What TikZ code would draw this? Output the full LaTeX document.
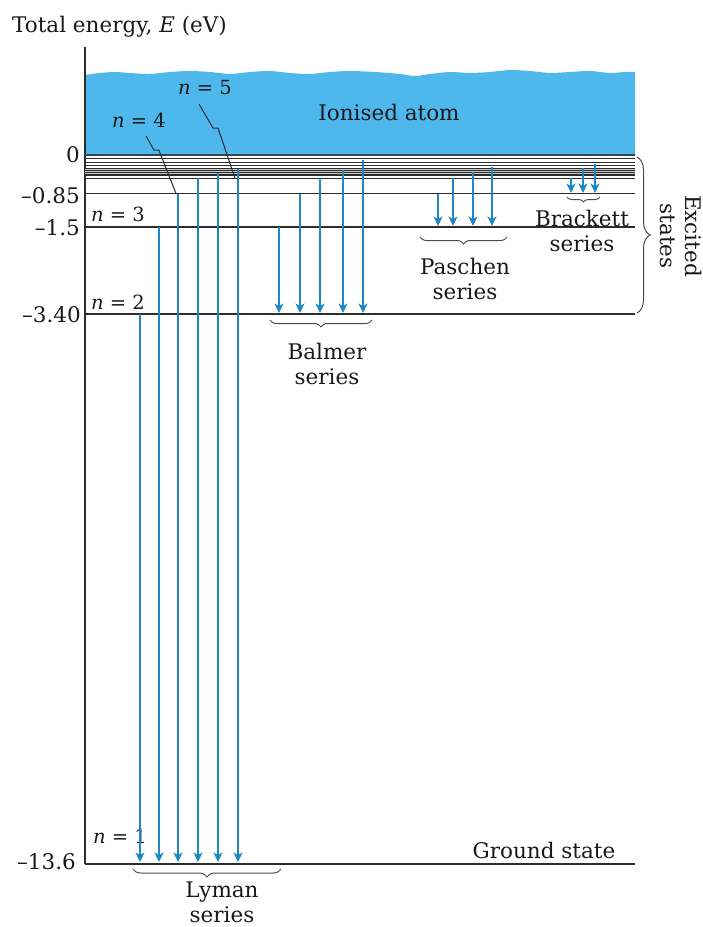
\documentclass[tikz,border=0pt]{standalone}
\usepackage{fontspec}
\setmainfont{DejaVu Serif}
\usetikzlibrary{arrows.meta,decorations.pathreplacing}
\definecolor{ionblue}{RGB}{78,184,236}
\definecolor{arrblue}{RGB}{30,136,196}
\definecolor{lev}{RGB}{45,45,45}
\begin{document}
\begin{tikzpicture}[x=1pt,y=-1pt,
  lbl/.style={font=\fontsize{21.5}{25}\selectfont, inner sep=0pt, text=black!90, align=center},
  nlbl/.style={font=\fontsize{19.5}{24}\selectfont, inner sep=0pt, text=black!90},
  levelline/.style={draw=lev, line width=1.3pt},
  thinlevel/.style={draw=lev, line width=0.9pt},
  arr/.style={draw=arrblue, line width=1.4pt, -{Stealth[length=9.5pt,width=9pt,inset=2.5pt]}},
  brc/.style={decorate, decoration={brace, amplitude=7pt}, draw=black!70, line width=1pt},
  leader/.style={draw=lev, line width=1pt}]
\useasboundingbox (0,0) rectangle (702,927);
% ionised region
\fill[ionblue] plot[smooth] coordinates {(85,75) (100,73) (115,72) (130,73) (150,74) (170,72) (190,71) (210,72) (230,74) (250,72) (270,71) (290,73) (310,74) (330,72) (350,71) (375,72) (400,74) (415,76) (430,74) (450,72) (470,73) (490,72) (510,70) (530,71) (550,73) (570,72) (590,71) (610,73) (625,72) (635,72)} -- (635,155) -- (85,155) -- cycle;
\node[lbl] (ion) at (389,112) {Ionised atom};
\node[lbl, anchor=base west] (title) at (12,32) {Total energy, {\itshape E} (eV)};
% axis
\coordinate (axtop) at (85,47);
\coordinate (axbot) at (85,864);
\draw[levelline] (axtop) -- (axbot);
% levels
\fill[gray!45] (85,168.3) rectangle (635,175.7);
\foreach \y in {158,162.3,165.7,168.3,170.5,172.5,174.2,175.7}
  \draw[thinlevel] (85,\y) -- (635,\y);
\foreach \y in {178.3,193.5,227,314,864}
  \draw[levelline] (85,\y) -- (635,\y);
\draw[draw=lev!80!ionblue, line width=2pt] (85,155) -- (635,155);
% energy values
\node[lbl, anchor=east] (e0) at (80,155) {0};
\node[lbl, anchor=east] (e1) at (80,196) {–0.85};
\node[lbl, anchor=east] (e2) at (80,228) {–1.5};
\node[lbl, anchor=east] (e3) at (81,315) {–3.40};
\node[lbl, anchor=east] (e4) at (76,862) {–13.6};
% n labels
\node[nlbl] (n3) at (118,214) {{\itshape n} = 3};
\node[nlbl] (n2) at (118,302) {{\itshape n} = 2};
\node[nlbl] (n1) at (120,836) {{\itshape n} = 1};
\node[nlbl] (n4) at (139,120) {{\itshape n} = 4};
\node[nlbl] (n5) at (205,88) {{\itshape n} = 5};
\coordinate (n4a) at (146,136);
\coordinate (n4end) at (176,193.5);
\draw[leader] (n4a) -- ++(8,14) -- ++(5,0) -- ++(1,3) -- (n4end);
\coordinate (n5a) at (199,104);
\coordinate (n5end) at (235,178.3);
\draw[leader] (n5a) -- ++(14,24) -- ++(5,0) -- ++(1,3) -- (n5end);
% transitions
\foreach \nm/\x/\a/\b in {
  ly1/140/314/862, ly2/159/227/862, ly3/178/193.5/862, ly4/198/178.3/862, ly5/218/173/862, ly6/238/169/862,
  ba1/279/227/313, ba2/300/193.5/313, ba3/320/178.3/313, ba4/343/170/313, ba5/363/160/313,
  pa1/438/193.5/226, pa2/453/178.3/226, pa3/473/172/226, pa4/492/167/226,
  br1/571/178.3/193, br2/583/168/193, br3/595/164/193}
{
  \coordinate (\nm s) at (\x,\a);
  \coordinate (\nm e) at (\x,\b);
  \draw[arr] (\nm s) -- (\nm e);
}
% braces and series labels
\coordinate (bab) at (372,320); \coordinate (baa) at (270,320);
\draw[brc] (bab) -- (baa);
\node[lbl] (balmer) at (327,364) {Balmer\\series};
\coordinate (pab) at (507,237); \coordinate (paa) at (420,237);
\draw[brc] (pab) -- (paa);
\node[lbl] (paschen) at (465,279) {Paschen\\series};
\coordinate (brb) at (600,197); \coordinate (bra) at (567,197);
\draw[brc, decoration={brace, amplitude=5pt}] (brb) -- (bra);
\node[lbl] (brackett) at (582,230.5) {Brackett\\series};
\coordinate (lyb) at (281,869); \coordinate (lya) at (133,869);
\draw[brc, decoration={brace, amplitude=8pt}] (lyb) -- (lya);
\node[lbl] (lyman) at (222,902) {Lyman\\series};
\coordinate (exa) at (637,157); \coordinate (exb) at (637,313);
\draw[brc, decoration={brace, amplitude=13pt}] (exa) -- (exb);
\node[lbl, rotate=-90] (excited) at (681,236) {Excited\\states};
\node[lbl] (ground) at (544,850) {Ground state};
\end{tikzpicture}
\end{document}
